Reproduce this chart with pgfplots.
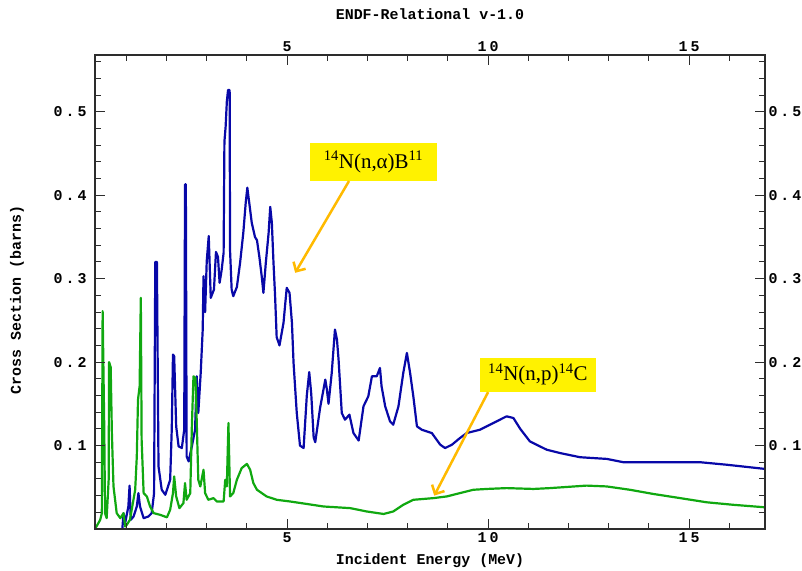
\documentclass[border=0pt]{standalone}
\usepackage{fontspec}
\setmainfont{Liberation Serif}
\setmonofont{Liberation Mono}
\newfontfamily\tickfont{Liberation Mono}[LetterSpace=20]
\usepackage{pgfplots}
\pgfplotsset{compat=1.18}
\usetikzlibrary{arrows.meta}
\definecolor{nablue}{RGB}{8,8,168}
\definecolor{npgreen}{RGB}{16,168,16}
\definecolor{arrowc}{RGB}{255,186,0}
\definecolor{framec}{RGB}{45,45,45}
\pgfplotsset{myaxis/.style={
  at={(95bp,42bp)}, anchor=south west,
  scale only axis, width=670bp, height=474bp,
  xmin=0.22, xmax=16.89, ymin=0, ymax=0.568,
  axis line style={framec, line width=1.2bp},
  tick align=inside, tick style={framec, line width=1bp},
  major tick length=10bp, minor tick length=6bp,
  xtick={5,10,15}, xticklabels={5,10,15},
  minor xtick={1,2,3,4,6,7,8,9,11,12,13,14,16},
  ytick={0.1,0.2,0.3,0.4,0.5}, yticklabels={0.1,0.2,0.3,0.4,0.5},
  minor ytick={0.02,0.04,0.06,0.08,0.12,0.14,0.16,0.18,0.22,0.24,0.26,0.28,0.32,0.34,0.36,0.38,0.42,0.44,0.46,0.48,0.52,0.54,0.56},
  tick label style={font=\tickfont\bfseries\fontsize{15}{15}\selectfont},
}}
\begin{document}
\begin{tikzpicture}
\useasboundingbox (0,0) rectangle (802bp,571bp);
\begin{axis}[myaxis, xticklabel pos=lower, yticklabel pos=left, yticklabel style={xshift=-5bp}]
\addplot[nablue, line width=2.2bp, line join=round] coordinates {
(0.90,0.000)(0.93,0.019)(0.97,0.007)(1.05,0.027)(1.08,0.052)(1.11,0.011)(1.18,0.015)(1.26,0.027)(1.30,0.043)(1.34,0.027)(1.43,0.013)(1.55,0.015)(1.63,0.019)(1.69,0.043)(1.72,0.320)(1.76,0.320)(1.80,0.075)(1.88,0.047)(1.97,0.041)(2.09,0.059)(2.13,0.120)(2.16,0.209)(2.19,0.207)(2.24,0.123)(2.30,0.099)(2.38,0.097)(2.44,0.119)(2.46,0.413)(2.48,0.413)(2.50,0.087)(2.55,0.081)(2.63,0.099)(2.71,0.119)(2.75,0.183)(2.79,0.139)(2.85,0.187)(2.90,0.239)(2.92,0.303)(2.96,0.260)(3.00,0.321)(3.05,0.351)(3.10,0.277)(3.18,0.287)(3.23,0.332)(3.28,0.326)(3.32,0.295)(3.37,0.310)(3.42,0.331)(3.44,0.464)(3.47,0.482)(3.50,0.512)(3.53,0.526)(3.57,0.526)(3.58,0.334)(3.62,0.287)(3.66,0.279)(3.75,0.290)(3.83,0.319)(3.91,0.355)(3.97,0.391)(4.01,0.409)(4.06,0.390)(4.12,0.367)(4.20,0.350)(4.25,0.346)(4.31,0.326)(4.37,0.302)(4.41,0.283)(4.47,0.319)(4.54,0.355)(4.58,0.386)(4.62,0.367)(4.66,0.320)(4.70,0.280)(4.74,0.230)(4.81,0.220)(4.91,0.247)(4.99,0.289)(5.06,0.283)(5.12,0.247)(5.16,0.199)(5.24,0.139)(5.32,0.100)(5.41,0.097)(5.49,0.160)(5.55,0.188)(5.60,0.162)(5.66,0.110)(5.70,0.104)(5.82,0.145)(5.95,0.179)(5.99,0.167)(6.03,0.150)(6.11,0.187)(6.19,0.239)(6.24,0.227)(6.28,0.203)(6.36,0.139)(6.44,0.131)(6.55,0.137)(6.65,0.115)(6.78,0.106)(6.90,0.147)(7.02,0.159)(7.11,0.183)(7.23,0.183)(7.31,0.193)(7.35,0.171)(7.44,0.147)(7.56,0.129)(7.64,0.125)(7.77,0.147)(7.89,0.187)(7.98,0.211)(8.06,0.187)(8.14,0.159)(8.23,0.123)(8.35,0.119)(8.60,0.115)(8.72,0.107)(8.81,0.101)(8.93,0.097)(9.10,0.101)(9.30,0.109)(9.47,0.115)(9.80,0.119)(10.13,0.127)(10.46,0.135)(10.63,0.133)(10.80,0.120)(11.04,0.105)(11.29,0.099)(11.46,0.095)(11.79,0.091)(12.29,0.086)(12.95,0.084)(13.37,0.080)(15.28,0.080)(15.94,0.077)(16.89,0.072)
};
\addplot[npgreen, line width=2.2bp, line join=round] coordinates {
(0.22,0.000)(0.35,0.011)(0.39,0.019)(0.41,0.261)(0.45,0.122)(0.47,0.019)(0.51,0.013)(0.56,0.059)(0.57,0.200)(0.61,0.194)(0.64,0.115)(0.68,0.051)(0.76,0.019)(0.85,0.013)(0.93,0.019)(0.97,0.003)(1.01,0.005)(1.09,0.011)(1.22,0.047)(1.26,0.087)(1.29,0.155)(1.33,0.171)(1.36,0.277)(1.38,0.107)(1.43,0.043)(1.51,0.039)(1.59,0.027)(1.68,0.019)(1.84,0.017)(2.01,0.014)(2.09,0.023)(2.16,0.043)(2.19,0.063)(2.24,0.039)(2.32,0.025)(2.42,0.031)(2.46,0.055)(2.50,0.035)(2.59,0.043)(2.63,0.123)(2.67,0.183)(2.72,0.181)(2.75,0.131)(2.79,0.059)(2.84,0.051)(2.92,0.071)(2.96,0.043)(3.04,0.035)(3.17,0.037)(3.25,0.033)(3.42,0.033)(3.46,0.059)(3.50,0.051)(3.54,0.127)(3.58,0.039)(3.66,0.043)(3.75,0.059)(3.87,0.073)(4.00,0.078)(4.08,0.071)(4.16,0.055)(4.25,0.047)(4.49,0.039)(4.74,0.035)(5.07,0.033)(5.49,0.030)(5.90,0.027)(6.57,0.025)(6.98,0.021)(7.40,0.018)(7.64,0.021)(7.89,0.029)(8.14,0.035)(8.64,0.037)(8.97,0.039)(9.30,0.043)(9.63,0.047)(9.97,0.048)(10.46,0.049)(11.13,0.048)(11.54,0.049)(12.45,0.052)(12.95,0.051)(13.53,0.047)(14.11,0.042)(14.78,0.037)(15.44,0.032)(16.10,0.029)(16.89,0.026)
};
\node[fill=yellow, minimum width=127bp, minimum height=38bp, inner sep=0pt, font=\fontsize{21}{24}\selectfont] (b1) at (axis cs:7.15,0.44) {\textsuperscript{14}N(n,α)B\textsuperscript{11}};
\node[fill=yellow, minimum width=116bp, minimum height=34bp, inner sep=0pt, font=\fontsize{21}{24}\selectfont] (b2) at (axis cs:11.24,0.185) {\textsuperscript{14}N(n,p)\textsuperscript{14}C};
\draw[arrowc, line width=2.5bp, -{Straight Barb[length=7bp,width=14bp]}] (axis cs:6.54,0.417) -- (axis cs:5.20,0.307);
\draw[arrowc, line width=2.5bp, -{Straight Barb[length=7bp,width=14bp]}] (axis cs:10.0,0.164) -- (axis cs:8.66,0.040);
\end{axis}
\begin{axis}[myaxis, xticklabel pos=upper, yticklabel pos=right]
\end{axis}
\node[font=\ttfamily\bfseries\fontsize{15}{15}\selectfont] at (430bp,557bp) {ENDF-Relational v-1.0};
\node[font=\ttfamily\bfseries\fontsize{15}{15}\selectfont] at (430bp,10bp) {Incident Energy (MeV)};
\node[font=\ttfamily\bfseries\fontsize{15}{15}\selectfont, rotate=90] at (17bp,271bp) {Cross Section (barns)};
\end{tikzpicture}
\end{document}
